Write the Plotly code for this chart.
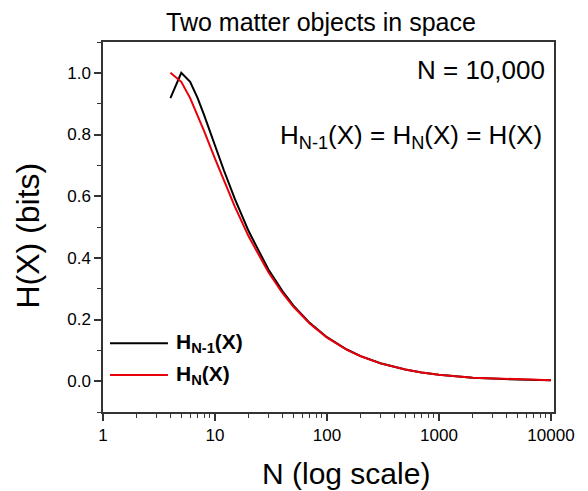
import plotly.graph_objects as go

# Data
n_vals = [4, 5, 6, 7, 8, 10, 12, 15, 20, 30, 40, 50, 70, 100, 150, 200, 300, 500, 700, 1000, 2000, 5000, 10000]
h_nm1 = [0.918, 1.0, 0.971, 0.918, 0.863, 0.764, 0.684, 0.592, 0.486, 0.362, 0.292, 0.246, 0.189, 0.1426,
         0.1027, 0.0812, 0.0580, 0.0377, 0.0283, 0.0208, 0.0114, 0.0051, 0.0027]
h_n = [1.0, 0.971, 0.918, 0.863, 0.811, 0.722, 0.650, 0.567, 0.469, 0.353, 0.286, 0.242, 0.187, 0.1414,
       0.102, 0.0808, 0.0578, 0.0376, 0.0283, 0.0208, 0.0114, 0.0051, 0.0027]

x_major = [1, 10, 100, 1000, 10000]
x_major_labels = ["1", "10", "100", "1000", "10000"]
x_minor = [m * d for d in [1, 10, 100, 1000] for m in range(2, 10)]
y_major = [0.0, 0.2, 0.4, 0.6, 0.8, 1.0]
y_major_labels = ["0.0", "0.2", "0.4", "0.6", "0.8", "1.0"]

FONT = "Liberation Sans, Arial, sans-serif"
AXC = "#333333"
RED = "#e8000b"

fig = go.Figure()
fig.add_trace(go.Scatter(x=n_vals, y=h_nm1, mode="lines", name="H<sub>N-1</sub>(X)",
                         line=dict(color="black", width=2)))
fig.add_trace(go.Scatter(x=n_vals, y=h_n, mode="lines", name="H<sub>N</sub>(X)",
                         line=dict(color=RED, width=2)))

# page body adds an 8px offset, so the figure is 8px smaller than the window
fig.update_layout(
    width=580, height=483,
    margin=dict(l=95, r=34, t=34, b=79),
    paper_bgcolor="white", plot_bgcolor="white",
    showlegend=False,
    font=dict(family=FONT, color="black"),
    title=dict(text="Two matter objects in space", x=313 / 580, xanchor="center",
               y=1 - 14 / 483, yanchor="middle", font=dict(size=25, family=FONT, color="black")),
)
fig.update_xaxes(
    type="log", range=[0, 4.027],
    tickmode="array", tickvals=x_major, ticktext=x_major_labels,
    ticks="outside", ticklen=7, tickwidth=1.5, tickcolor=AXC,
    showline=True, linecolor=AXC, linewidth=1.5, mirror=True,
    showgrid=False, zeroline=False,
    tickfont=dict(size=17, family=FONT, color="black"),
    minor=dict(tickmode="array", tickvals=x_minor, ticks="outside", ticklen=4, tickwidth=1.2, tickcolor=AXC, showgrid=False),
)
fig.update_yaxes(
    range=[-0.1, 1.1],
    tickmode="array", tickvals=y_major, ticktext=y_major_labels,
    ticks="outside", ticklen=7, tickwidth=1.5, tickcolor=AXC,
    showline=True, linecolor=AXC, linewidth=1.5, mirror=True,
    showgrid=False, zeroline=False,
    tickfont=dict(size=17, family=FONT, color="black"),
    minor=dict(dtick=0.1, tick0=-0.1, ticks="outside", ticklen=4, tickwidth=1.2, tickcolor=AXC, showgrid=False),
)

# Axis titles
fig.add_annotation(xref="paper", yref="paper", x=0.539, y=-0.165, xanchor="center", yanchor="middle",
                   text="N (log scale)", showarrow=False, font=dict(size=30, family=FONT, color="black"))
fig.add_annotation(xref="paper", yref="paper", x=-0.167, y=0.476, xanchor="center", yanchor="middle",
                   textangle=-90, text="H(X) (bits)", showarrow=False,
                   font=dict(size=32, family=FONT, color="black"))

# Manual legend
leg_items = [("H<sub>N-1</sub>(X)", "black", 0.186), ("H<sub>N</sub>(X)", RED, 0.10)]
for text, col, yy in leg_items:
    fig.add_shape(type="line", xref="paper", yref="paper", x0=0.0155, x1=0.144, y0=yy, y1=yy,
                  line=dict(color=col, width=2))
    fig.add_annotation(xref="paper", yref="paper", x=0.158, y=yy, xanchor="left", yanchor="middle",
                       text="<b>" + text + "</b>", showarrow=False,
                       font=dict(size=21, family=FONT, color="black"))

fig.add_annotation(xref="paper", yref="paper", x=0.984, y=0.924, xanchor="right", yanchor="middle",
                   text="N = 10,000", showarrow=False, font=dict(size=26, family=FONT, color="black"))
fig.add_annotation(xref="paper", yref="paper", x=0.978, y=0.745, xanchor="right", yanchor="middle",
                   text="H<sub>N-1</sub>(X) = H<sub>N</sub>(X) = H(X)", showarrow=False,
                   font=dict(size=26, family=FONT, color="black"))

fig.write_html("out.html")
